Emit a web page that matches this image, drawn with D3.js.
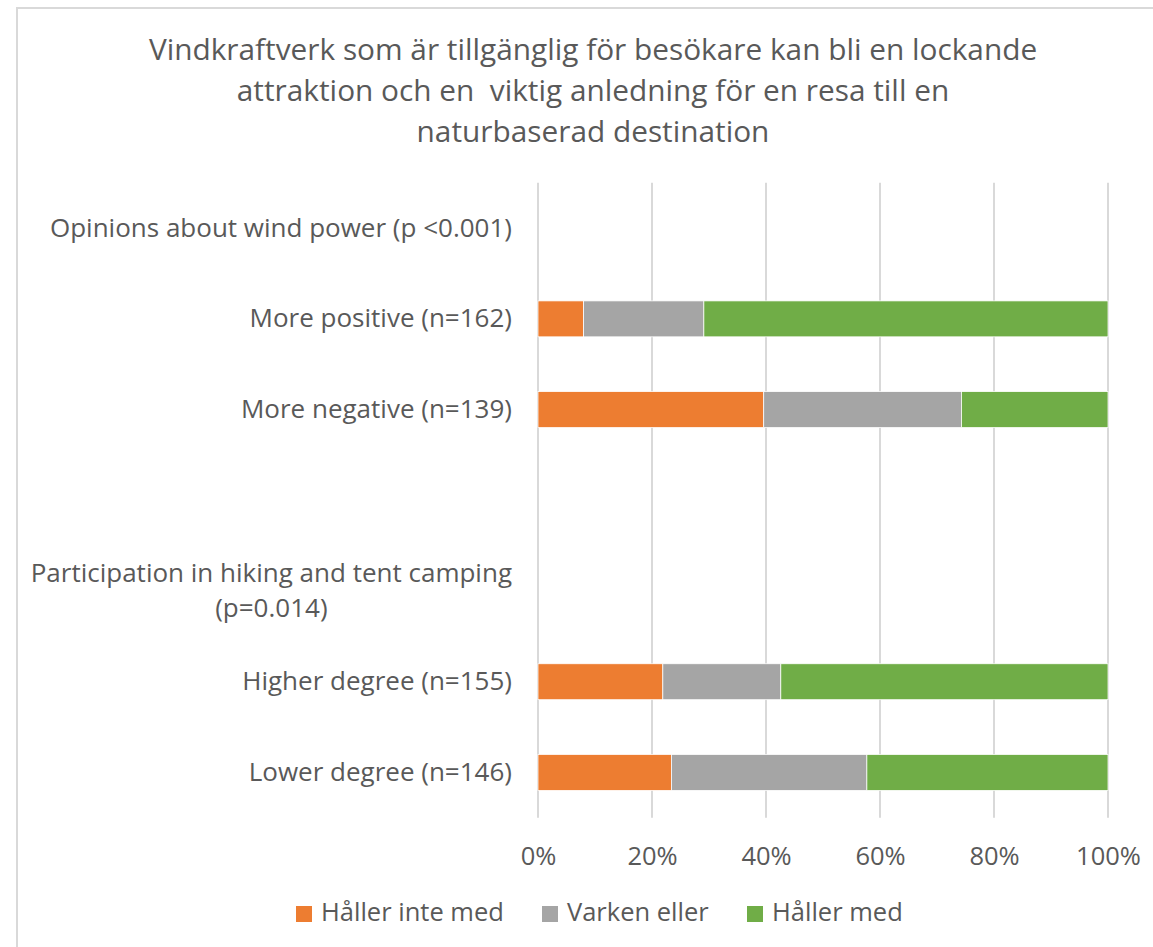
<!DOCTYPE html>
<html>
<head>
<meta charset="utf-8">
<script src="https://cdn.jsdelivr.net/npm/d3@7/dist/d3.min.js"></script>
<style>
  html, body { margin: 0; padding: 0; background: #fff; }
  svg { display: block; }
  text { font-family: "Open Sans", Lato, sans-serif; fill: #595959; }
</style>
</head>
<body>
<svg id="chart" width="1153" height="947"></svg>
<script>
// ---- data ----
const titleLines = [
  "Vindkraftverk som är tillgänglig för besökare kan bli en lockande",
  "attraktion och en  viktig anledning för en resa till en",
  "naturbaserad destination"
];
const categories = [
  "Opinions about wind power (p <0.001)",
  "More positive (n=162)",
  "More negative (n=139)",
  "",
  "Participation in hiking and tent camping\n(p=0.014)",
  "Higher degree (n=155)",
  "Lower degree (n=146)"
];
const seriesNames = ["Håller inte med", "Varken eller", "Håller med"];
const seriesColors = ["#ED7D31", "#A5A5A5", "#70AD47"];
const hallerInteMed = [null, 8.0, 39.6, null, null, 21.9, 23.4];
const varkenEller   = [null, 21.1, 34.7, null, null, 20.7, 34.3];
const hallerMed     = [null, 70.9, 25.7, null, null, 57.4, 42.3];
const tickValues = [0, 0.2, 0.4, 0.6, 0.8, 1.0];

// ---- build ----
const svg = d3.select("#chart");
svg.append("rect").attr("width", 1153).attr("height", 947).attr("fill", "#fff");
// chart frame
svg.append("rect")
  .attr("x", 17).attr("y", 8).attr("width", 1200).attr("height", 1000)
  .attr("fill", "none").attr("stroke", "#D9D9D9").attr("stroke-width", 2);

// title
svg.append("g").selectAll("text").data(titleLines).join("text")
  .attr("x", 593).attr("y", (d, i) => 60 + i * 41)
  .attr("text-anchor", "middle")
  .style("font-size", "29.8px")
  .style("white-space", "pre")
  .text(d => d);

const x = d3.scaleLinear().domain([0, 1]).range([538, 1108]);
const y = d3.scaleBand().domain(d3.range(categories.length)).range([182.8, 817.8]).paddingInner(0.604).paddingOuter(0.302);

// gridlines
svg.append("g").selectAll("line").data(tickValues).join("line")
  .attr("x1", d => x(d)).attr("x2", d => x(d))
  .attr("y1", 182.8).attr("y2", 817.8)
  .attr("stroke", "#D9D9D9").attr("stroke-width", 2);

// stacked data
const rows = categories.map((c, i) => ({
  i, v: [hallerInteMed[i], varkenEller[i], hallerMed[i]]
}));
const stackData = rows.filter(r => r.v[0] != null).map(r => {
  const total = r.v.reduce((a, b) => a + b, 0);
  let acc = 0;
  return r.v.map((v, k) => {
    const s = { i: r.i, k, x0: acc / total, x1: (acc + v) / total };
    acc += v;
    return s;
  });
}).flat();

svg.append("g").selectAll("rect").data(stackData).join("rect")
  .attr("x", d => x(d.x0))
  .attr("width", d => x(d.x1) - x(d.x0))
  .attr("y", d => y(d.i))
  .attr("height", y.bandwidth())
  .attr("fill", d => seriesColors[d.k])
  .attr("stroke", "#fff").attr("stroke-width", 0.75);

// category labels
const labelG = svg.append("g");
categories.forEach((c, i) => {
  if (!c) return;
  const lines = c.split("\n");
  const cy = y(i) + y.bandwidth() / 2;
  const lh = 35;
  const t = labelG.append("text")
    .style("font-size", "26px");
  const startY = cy - (lines.length - 1) * lh / 2 + 8.5;
  const first = t.append("tspan").attr("x", 512).attr("y", startY).attr("text-anchor", "end").text(lines[0]);
  if (lines.length > 1) {
    const w = first.node().getComputedTextLength();
    lines.slice(1).forEach((ln, j) => {
      t.append("tspan").attr("x", 512 - w / 2).attr("y", startY + (j + 1) * lh)
        .attr("text-anchor", "middle").text(ln);
    });
  }
});

// x axis tick labels
const axis = d3.axisBottom(x).tickValues(tickValues).tickFormat(d3.format(".0%")).tickSize(0).tickPadding(0);
const ag = svg.append("g").attr("transform", "translate(0,847)").call(axis);
ag.select(".domain").remove();
ag.selectAll("text").style("font-size", "25.5px").style("font-family", "'Open Sans', Lato, sans-serif").attr("fill", "#595959");

// legend
const legendX = [296, 542, 747];
const lg = svg.append("g");
seriesNames.forEach((n, k) => {
  lg.append("rect").attr("x", legendX[k]).attr("y", 906).attr("width", 16).attr("height", 16).attr("fill", seriesColors[k]);
  lg.append("text").attr("x", legendX[k] + 25).attr("y", 921).style("font-size", "25.5px").text(n);
});
</script>
</body>
</html>
